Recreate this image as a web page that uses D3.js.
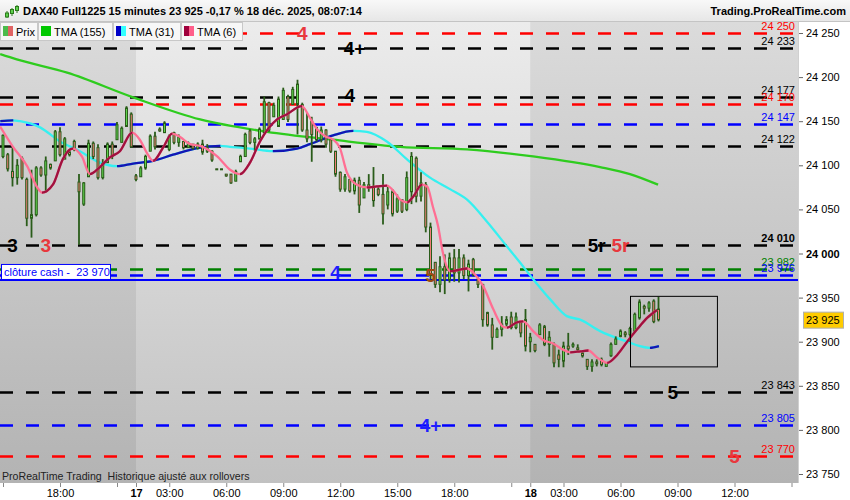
<!DOCTYPE html>
<html>
<head>
<meta charset="utf-8">
<script src="https://cdn.jsdelivr.net/npm/d3@7"></script>
<style>
body { margin: 0; background: #fff; }
svg { display: block; font-family: Arial, "Liberation Sans", sans-serif; }
</style>
</head>
<body>
<script>
// 15 minute bars, bar 0 = 16 dec 15:00, bar 28 = 17 dec 01:15, bar 111 = 18 dec 01:15
// [open, high, low, close]
var bars16 = [
    [24110,24135,24108,24134],[24112,24114,24093,24096],[24093,24121,24076,24086],[24086,24107,24078,24100],
    [24108,24110,24084,24086],[24084,24086,24031,24040],[24040,24095,24018,24044],[24044,24099,24042,24097],
    [24097,24099,24087,24089],[24089,24110,24069,24105],[24101,24102,24095,24097],[24105,24140,24105,24138],
    [24138,24143,24110,24112],[24107,24132,24107,24130],[24115,24118,24110,24112],[24127,24129,24116,24118],
    [24081,24090,24010,24070],[24056,24081,24054,24080],[24087,24129,24087,24125],[24125,24127,24107,24110],
    [24120,24124,24084,24086],[24086,24107,24084,24102],[24103,24126,24103,24124],[24124,24127,24107,24110],
    [24129,24149,24129,24146],[24126,24144,24126,24142],[24144,24167,24144,24165],[24158,24160,24120,24121]
];
var bars17 = [
    [24088,24090,24082,24084],[24087,24099,24087,24097],[24097,24112,24095,24110],[24116,24135,24116,24133],
    [24133,24138,24118,24121],[24141,24143,24138,24139],[24137,24150,24137,24148],[24118,24135,24116,24133],
    [24137,24138,24124,24126],[24126,24135,24121,24132],[24127,24127,24118,24120],[24120,24127,24120,24125],
    [24124,24124,24118,24119],[24119,24126,24118,24124],[24124,24129,24112,24115],[24116,24124,24114,24120],
    [24116,24117,24104,24106],[24096,24096,24095,24095],[24095,24096,24095,24096],[24090,24090,24087,24088],
    [24090,24090,24079,24080],[24082,24095,24082,24093],[24104,24112,24104,24110],[24110,24137,24110,24135],
    [24139,24141,24124,24126],[24126,24132,24116,24130],[24130,24143,24129,24141],[24137,24178,24137,24172],
    [24171,24172,24138,24140],[24155,24171,24155,24168],[24144,24178,24144,24175],[24152,24188,24152,24185],
    [24178,24180,24149,24152],[24169,24189,24169,24186],[24169,24197,24135,24192],[24169,24171,24138,24140],
    [24140,24160,24126,24130],[24150,24155,24104,24135],[24143,24143,24127,24129],[24129,24144,24126,24140],
    [24140,24141,24120,24124],[24129,24129,24114,24116],[24116,24116,24087,24090],[24092,24093,24070,24073],
    [24073,24090,24070,24087],[24084,24084,24069,24071],[24071,24086,24067,24083],[24083,24087,24046,24055],
    [24063,24081,24063,24078],[24078,24090,24070,24075],[24075,24098,24053,24060],[24073,24076,24065,24067],
    [24067,24090,24033,24045],[24055,24076,24050,24070],[24070,24073,24042,24045],[24048,24067,24046,24062],
    [24061,24061,24046,24048],[24050,24093,24048,24086],[24070,24115,24056,24110],[24108,24110,24058,24065],
    [24065,24092,24059,24080],[24078,24081,24024,24030],[24030,24035,23971,23975],[23990,23990,23961,23965],
    [23965,23997,23956,23985],[23985,23999,23954,23970],[23970,24001,23967,23995],[23995,24005,23968,23978],
    [23978,24005,23967,23995],[23995,23999,23971,23975],[23975,23993,23957,23988],[23993,23995,23974,23976],
    [23971,23973,23961,23965],[23965,23965,23917,23925],[23933,23934,23917,23919],[23919,23927,23891,23905],
    [23905,23916,23905,23914],[23914,23929,23906,23920],[23920,23929,23917,23925],[23928,23934,23914,23916],
    [23916,23933,23914,23928],[23922,23923,23905,23910],[23925,23937,23889,23895]
];
var bars18 = [
    [23900,23910,23888,23905],[23897,23897,23888,23890],[23908,23921,23908,23919],[23917,23919,23895,23897],
    [23897,23912,23883,23905],[23897,23899,23871,23876],[23885,23891,23871,23880],[23878,23900,23871,23895],
    [23895,23910,23885,23892],[23895,23899,23893,23897],[23893,23897,23889,23891],[23887,23888,23882,23884],
    [23880,23880,23868,23872],[23872,23880,23866,23877],[23877,23880,23872,23875],[23880,23882,23872,23874],
    [23872,23877,23872,23876],[23884,23899,23883,23897],[23897,23906,23897,23903],[23906,23914,23905,23912],
    [23910,23912,23905,23908],[23908,23917,23900,23915],[23912,23933,23910,23931],[23927,23948,23925,23945],
    [23940,23942,23931,23938],[23938,23946,23934,23944],[23946,23948,23921,23923],[23937,23951,23923,23925]
];

// moving averages: [bar, value]
var tma155 = [[-0.6,24226],[2.9,24220],[13.5,24205],[27.4,24177],[41.5,24152],[55.6,24138],[69.5,24129],
    [83.6,24121],[97.7,24118],[111.6,24110],[125.7,24098],[132,24090],[137.9,24078]];
var tma31 = [[-0.6,24150],[2.1,24151],[3.6,24150],[7.8,24143],[12,24127],[16.2,24116],[20.4,24103],[24,24099],
    [27.4,24102],[31.6,24105],[35.8,24112],[41.5,24120],[45.7,24122],[47.8,24121],[52,24119],[56.8,24116],
    [61.9,24119],[64.6,24124],[69.5,24134],[73.7,24139],[76.6,24138],[80.8,24127],[85,24107],[89.9,24086],
    [94.1,24073],[97.7,24061],[101.9,24036],[106.1,24008],[108.8,23990],[111.6,23971],[115.2,23948],
    [118.7,23929],[121.5,23925],[125.7,23912],[131.4,23900],[134.1,23895],[136.2,23893],[138.1,23895]];
var tma6 = [[-0.6,24144],[2.1,24121],[5.1,24099],[7.2,24075],[8.2,24069],[10.5,24078],[12.6,24107],[14.1,24118],
    [14.7,24119],[16.6,24110],[18.3,24090],[20.4,24098],[22.5,24109],[24.6,24116],[27.2,24137],[28.8,24129],
    [30.5,24112],[31.6,24105],[33.7,24120],[35.6,24136],[37.3,24132],[39.4,24124],[41.5,24122],[45.1,24110],
    [47.8,24095],[49.9,24090],[52,24103],[54.1,24127],[57.7,24152],[59.8,24158],[62.9,24167],[64.6,24154],
    [66.1,24141],[67.8,24133],[69.5,24129],[70.9,24120],[72.4,24092],[74.5,24078],[76.6,24075],[78.7,24076],
    [80.8,24077],[82.5,24069],[83.6,24061],[85.1,24058],[86.3,24064],[88.2,24078],[89.3,24076],[90.5,24053],
    [91.6,24031],[92.6,24001],[94.1,23980],[95.6,23981],[97.7,23983],[99.4,23976],[101.1,23963],[103.2,23937],
    [105.3,23917],[106.1,23916],[108.2,23922],[109.5,23923],[111.6,23912],[113.7,23902],[115.8,23898],
    [117.9,23891],[119.4,23888],[121.5,23889],[123.2,23890],[125.1,23882],[126.3,23878],[127.2,23876],
    [129.3,23885],[131.4,23900],[133.5,23914],[135.6,23927],[137.7,23936]];

// horizontal levels
var levelValues = [24250, 24233, 24177, 24170, 24147, 24122, 24010, 23982, 23976, 23843, 23805, 23770];
var levelKinds  = ["r", "n", "n", "r", "b", "n", "n", "g", "b", "n", "b", "r"];
var cashClose = 23970;
var lastPrice = 23925;

// level tags: bar, price, text
var tagBars   = [63, 74, 73, 2, 9, 125, 130, 70, 90, 141, 90, 154];
var tagPrices = [24250, 24233, 24180, 24010, 24010, 24010, 24010, 23979, 23976, 23843, 23805, 23770];
var tagTexts  = ["4", "4+", "4", "3", "3", "5r", "5r", "4", "5", "5", "4+", "5"];
var tagKinds  = ["r", "n", "n", "n", "r", "n", "r", "b", "o", "n", "b", "r"];

// zoom box: bars and prices
var boxBars = [132, 150.3];
var boxPrices = [23952, 23872];

var priceTicks = [23750, 23800, 23850, 23900, 23950, 24000, 24050, 24100, 24150, 24200, 24250];
var timeTickBars = [0, 12, 24, 28, 35, 47, 59, 71, 83, 95, 107, 111, 118, 130, 142, 154, 166];
var timeTickLabels = ["", "18:00", "", "17", "03:00", "06:00", "09:00", "12:00", "15:00", "18:00", "", "18",
    "03:00", "06:00", "09:00", "12:00", ""];

window.onload = function() {
    draw();
};

function draw() {
    const width = 850;
    const height = 500;
    const plotLeft = 0, plotRight = 798, plotTop = 22, plotBottom = 483;

    var lineColor = {r: "#ff0000", n: "#000000", b: "#0000ff", g: "#008000"};
    var tagColor = {r: "#e8383d", n: "#000000", b: "#1e1eff", o: "#9a4a12"};

    var bars = bars16.concat(bars17, bars18);

    var fmt = d3.formatLocale({decimal: ",", thousands: " ", grouping: [3], currency: ["", ""]}).format(",d");

    var x = d3.scaleLinear().domain([0, 166]).range([3, 791.5]);
    var y = d3.scaleLinear().domain([23750, 24250]).range([474, 33]);

    var svg = d3.select("body").append("svg")
        .attr("width", width)
        .attr("height", height);

    var defs = svg.append("defs");
    var gl = defs.append("linearGradient").attr("id", "bgLight")
        .attr("gradientUnits", "userSpaceOnUse")
        .attr("x1", 0).attr("y1", plotTop).attr("x2", 0).attr("y2", plotBottom);
    gl.append("stop").attr("offset", 0).attr("stop-color", "#ececec");
    gl.append("stop").attr("offset", 1).attr("stop-color", "#c1c1c1");
    var gd = defs.append("linearGradient").attr("id", "bgDark")
        .attr("gradientUnits", "userSpaceOnUse")
        .attr("x1", 0).attr("y1", plotTop).attr("x2", 0).attr("y2", plotBottom);
    gd.append("stop").attr("offset", 0).attr("stop-color", "#dbdbdb");
    gd.append("stop").attr("offset", 1).attr("stop-color", "#b3b3b3");
    var tg = defs.append("linearGradient").attr("id", "titleBg")
        .attr("x1", 0).attr("y1", 0).attr("x2", 0).attr("y2", 1);
    tg.append("stop").attr("offset", 0).attr("stop-color", "#f8f8f8");
    tg.append("stop").attr("offset", 1).attr("stop-color", "#e6e6e6");

    defs.append("clipPath").attr("id", "plotClip")
        .append("rect").attr("x", plotLeft).attr("y", plotTop)
        .attr("width", plotRight - plotLeft).attr("height", plotBottom - plotTop);

    // session backgrounds
    var sessionEdges = [x(28), x(111)];
    svg.append("rect").attr("x", plotLeft).attr("y", plotTop)
        .attr("width", plotRight).attr("height", plotBottom - plotTop)
        .attr("fill", "url(#bgDark)");
    svg.append("rect").attr("x", sessionEdges[0]).attr("y", plotTop)
        .attr("width", sessionEdges[1] - sessionEdges[0]).attr("height", plotBottom - plotTop)
        .attr("fill", "url(#bgLight)");

    var plot = svg.append("g").attr("clip-path", "url(#plotClip)");

    // dashed levels
    plot.selectAll(".level")
        .data(levelValues)
        .enter()
        .append("line")
        .attr("x1", 0).attr("x2", 793)
        .attr("y1", function(d) { return Math.round(y(d)) + 0.5; })
        .attr("y2", function(d) { return Math.round(y(d)) + 0.5; })
        .attr("stroke", function(d, i) { return lineColor[levelKinds[i]]; })
        .attr("stroke-width", 2.5)
        .attr("stroke-dasharray", "13,13");

    // cash close
    plot.append("line")
        .attr("x1", 0).attr("x2", plotRight)
        .attr("y1", y(cashClose)).attr("y2", y(cashClose))
        .attr("stroke", "#0000ff").attr("stroke-width", 2);

    // level labels on the right
    plot.selectAll(".lvlText")
        .data(levelValues)
        .enter()
        .append("text")
        .attr("x", 795)
        .attr("y", function(d) { return y(d) - 3; })
        .attr("text-anchor", "end")
        .attr("font-size", 11)
        .attr("font-weight", function(d) { return d == 24010 ? "bold" : "normal"; })
        .attr("fill", function(d, i) { return lineColor[levelKinds[i]]; })
        .text(function(d) { return fmt(d); });

    // moving averages
    function drawTma(data, fallColor, riseColor, id) {
        var line = d3.line()
            .x(function(d) { return x(d[0]); })
            .y(function(d) { return y(d[1]); })
            .curve(d3.curveMonotoneX);
        plot.append("path").attr("d", line(data))
            .attr("fill", "none").attr("stroke", fallColor).attr("stroke-width", 2.3);
        if (!riseColor) return;
        var clip = defs.append("clipPath").attr("id", id);
        for (var i = 0; i < data.length - 1; i++) {
            if (data[i + 1][1] > data[i][1]) {
                clip.append("rect")
                    .attr("x", x(data[i][0])).attr("y", 0)
                    .attr("width", x(data[i + 1][0]) - x(data[i][0]) + 0.3).attr("height", height);
            }
        }
        plot.append("path").attr("d", line(data))
            .attr("clip-path", "url(#" + id + ")")
            .attr("fill", "none").attr("stroke", riseColor).attr("stroke-width", 2.3);
    }
    drawTma(tma155, "#2ecc1e", null, "c155");
    drawTma(tma31, "#35f0f0", "#1414b4", "c31");

    // candles
    var candle = plot.selectAll(".candle")
        .data(bars)
        .enter()
        .append("g");
    candle.append("line")
        .attr("x1", function(d, i) { return x(i); })
        .attr("x2", function(d, i) { return x(i); })
        .attr("y1", function(d) { return y(d[1]); })
        .attr("y2", function(d) { return y(d[2]); })
        .attr("stroke", "#2a5c1a").attr("stroke-width", 1.8);
    candle.append("rect")
        .attr("x", function(d, i) { return x(i) - 1; })
        .attr("width", 2)
        .attr("y", function(d) { return y(Math.max(d[0], d[3])); })
        .attr("height", function(d) { return Math.max(1, Math.abs(y(d[0]) - y(d[3]))); })
        .attr("fill", function(d) { return d[3] >= d[0] ? "#5fd24e" : "#f07c78"; })
        .attr("stroke", "#2a5c1a").attr("stroke-width", 1);

    drawTma(tma6, "#ff6f93", "#a0123f", "c6");

    // tags on the levels
    plot.selectAll(".tag")
        .data(tagTexts)
        .enter()
        .append("text")
        .attr("x", function(d, i) { return x(tagBars[i]); })
        .attr("y", function(d, i) { return y(tagPrices[i]); })
        .attr("dy", "0.36em")
        .attr("text-anchor", "middle")
        .attr("font-size", 19)
        .attr("font-weight", "bold")
        .attr("fill", function(d, i) { return tagColor[tagKinds[i]]; })
        .text(function(d) { return d; });

    // zoom box
    plot.append("rect")
        .attr("x", x(boxBars[0]) + 0.5).attr("y", y(boxPrices[0]) + 0.5)
        .attr("width", x(boxBars[1]) - x(boxBars[0]))
        .attr("height", y(boxPrices[1]) - y(boxPrices[0]))
        .attr("fill", "none").attr("stroke", "#000").attr("stroke-width", 1);

    // cash close label
    var cash = svg.append("g");
    cash.append("rect").attr("x", 1.5).attr("y", y(cashClose) - 15.5)
        .attr("width", 109).attr("height", 15)
        .attr("fill", "#fff").attr("stroke", "#0000ff");
    cash.append("text").attr("x", 4).attr("y", y(cashClose) - 4)
        .attr("font-size", 11).attr("fill", "#0000ff")
        .attr("xml:space", "preserve")
        .text("clôture cash -  " + fmt(cashClose));

    svg.append("text").attr("x", 2).attr("y", 480)
        .attr("font-size", 10.6).attr("fill", "#222")
        .attr("xml:space", "preserve")
        .text("ProRealTime Trading  Historique ajusté aux rollovers");

    // right axis
    svg.append("rect").attr("x", plotRight).attr("y", plotTop)
        .attr("width", width - plotRight).attr("height", height - plotTop).attr("fill", "#fff");
    svg.append("rect").attr("x", 0).attr("y", plotBottom)
        .attr("width", width).attr("height", height - plotBottom).attr("fill", "#fff");
    svg.append("line").attr("x1", plotRight + 0.5).attr("x2", plotRight + 0.5)
        .attr("y1", plotTop).attr("y2", plotBottom).attr("stroke", "#d0d0d0");

    var yAxis = svg.append("g")
        .attr("transform", "translate(" + (plotRight + 1) + ",0)")
        .call(d3.axisRight(y).tickValues(priceTicks).tickSize(4).tickPadding(3).tickFormat(fmt));
    yAxis.select(".domain").remove();
    yAxis.selectAll("line").attr("stroke", "#666");
    yAxis.selectAll("text")
        .attr("font-size", 11).attr("font-family", "Arial, 'Liberation Sans', sans-serif").attr("fill", "#000")
        .attr("font-weight", function(d) { return d == 24000 ? "bold" : "normal"; });

    // last price marker
    svg.append("rect").attr("x", 803.5).attr("y", y(lastPrice) - 7.5)
        .attr("width", 40).attr("height", 16)
        .attr("fill", "#ffcc00").attr("stroke", "#b0b0b0");
    svg.append("text").attr("x", 806).attr("y", y(lastPrice) + 4.5)
        .attr("font-size", 11).attr("fill", "#000")
        .text(fmt(lastPrice));

    // time axis
    var xAxis = svg.append("g")
        .attr("transform", "translate(0," + plotBottom + ")")
        .call(d3.axisBottom(x).tickValues(timeTickBars).tickSize(4).tickPadding(2)
            .tickFormat(function(d, i) { return timeTickLabels[i]; }));
    xAxis.select(".domain").remove();
    xAxis.selectAll("line").attr("stroke", "#888");
    xAxis.selectAll("text")
        .attr("font-size", 11).attr("font-family", "Arial, 'Liberation Sans', sans-serif").attr("fill", "#000")
        .attr("font-weight", function(d, i) { return timeTickLabels[i].length == 2 ? "bold" : "normal"; });

    // title bar
    svg.append("rect").attr("x", 0).attr("y", 0).attr("width", width).attr("height", plotTop)
        .attr("fill", "url(#titleBg)");
    svg.append("line").attr("x1", 0).attr("x2", width).attr("y1", plotTop - 0.5).attr("y2", plotTop - 0.5)
        .attr("stroke", "#c4c4c4");
    var icon = svg.append("g").attr("transform", "translate(5,5)");
    icon.append("line").attr("x1", 2).attr("x2", 2).attr("y1", 6).attr("y2", 13).attr("stroke", "#2a7a1a");
    icon.append("rect").attr("x", 0.5).attr("y", 8).attr("width", 3).attr("height", 4).attr("fill", "#5fd24e").attr("stroke", "#2a7a1a");
    icon.append("line").attr("x1", 7).attr("x2", 7).attr("y1", 3).attr("y2", 11).attr("stroke", "#2a7a1a");
    icon.append("rect").attr("x", 5.5).attr("y", 4.5).attr("width", 3).attr("height", 4).attr("fill", "#5fd24e").attr("stroke", "#2a7a1a");
    icon.append("line").attr("x1", 12).attr("x2", 12).attr("y1", 0).attr("y2", 8).attr("stroke", "#2a7a1a");
    icon.append("rect").attr("x", 10.5).attr("y", 1.5).attr("width", 3).attr("height", 4).attr("fill", "#5fd24e").attr("stroke", "#2a7a1a");
    svg.append("text").attr("x", 23).attr("y", 15)
        .attr("font-size", 11).attr("font-weight", "bold").attr("fill", "#000")
        .text("DAX40 Full1225 15 minutes 23 925 -0,17 % 18 déc. 2025, 08:07:14");
    svg.append("text").attr("x", 846).attr("y", 15)
        .attr("text-anchor", "end")
        .attr("font-size", 11).attr("font-weight", "bold").attr("fill", "#000")
        .text("Trading.ProRealTime.com");

    // legend
    var legendNames = ["Prix", "TMA (155)", "TMA (31)", "TMA (6)"];
    var legendEdges = [0, 38, 113, 181, 243];
    var legendColors = [["#4cbb4c", "#e06464"], ["#00c800", "#00c800"], ["#0000c8", "#33ffff"], ["#a0003c", "#ff5f8a"]];
    var legend = svg.append("g");
    legendNames.forEach(function(name, i) {
        var x0 = legendEdges[i], x1 = legendEdges[i + 1] - 1;
        legend.append("rect").attr("x", x0 + 0.5).attr("y", plotTop + 0.5)
            .attr("width", x1 - x0).attr("height", 18)
            .attr("fill", "#f7f7f7").attr("stroke", "#c8c8c8");
        legend.append("rect").attr("x", x0 + 3).attr("y", plotTop + 4).attr("width", 5).attr("height", 10)
            .attr("fill", legendColors[i][0]);
        legend.append("rect").attr("x", x0 + 8).attr("y", plotTop + 4).attr("width", 5).attr("height", 10)
            .attr("fill", legendColors[i][1]);
        legend.append("text").attr("x", x0 + 16).attr("y", plotTop + 13.5)
            .attr("font-size", 11).attr("fill", "#000")
            .text(name);
    });
}
</script>
</body>
</html>
